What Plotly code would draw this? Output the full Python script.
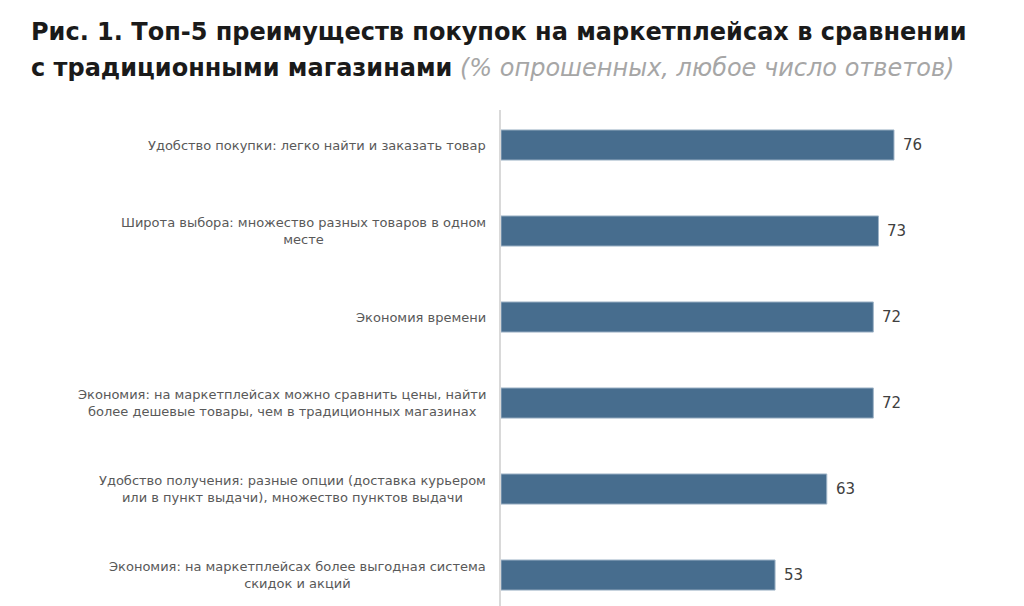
import plotly.graph_objects as go

categories = [
    "Удобство покупки: легко найти и заказать товар",
    "Широта выбора: множество разных товаров в одном<br>месте",
    "Экономия времени",
    "Экономия: на маркетплейсах можно сравнить цены, найти<br>более дешевые товары, чем в традиционных магазинах",
    "Удобство получения: разные опции (доставка курьером<br>или в пункт выдачи), множество пунктов выдачи",
    "Экономия: на маркетплейсах более выгодная система<br>скидок и акций",
]
values = [76, 73, 72, 72, 63, 53]
value_labels = [str(v) for v in values]

title_line1 = "Рис. 1. Топ-5 преимуществ покупок на маркетплейсах в сравнении"
title_line2 = "с традиционными магазинами"
title_note = "(% опрошенных, любое число ответов)"

FONT = "DejaVu Sans, sans-serif"
ypos = list(range(len(categories)))

W, H = 1024, 606
ML, MR, MT, MB = 501, 24, 110, 0
PW, PH = W - ML - MR, H - MT - MB


def px_to_paper_x(px):
    return (px - ML) / PW


def px_to_paper_y(py):
    return (H - MB - py) / PH


fig = go.Figure(go.Bar(
    y=ypos,
    x=values,
    orientation="h",
    width=0.35,
    marker=dict(color="#476d8e", line=dict(color="#9fb4c7", width=1)),
    hoverinfo="skip",
))

annotations = []
for yi, cat in zip(ypos, categories):
    annotations.append(dict(
        x=0, y=yi, xref="x", yref="y", text=cat, showarrow=False,
        xanchor="right", yanchor="middle", align="center", xshift=-13,
        font=dict(family=FONT, size=13, color="#595959"),
    ))
for yi, v, lab in zip(ypos, values, value_labels):
    annotations.append(dict(
        x=v, y=yi, xref="x", yref="y", text=lab, showarrow=False,
        xanchor="left", yanchor="middle", xshift=7,
        font=dict(family=FONT, size=15, color="#404040"),
    ))
annotations.append(dict(
    x=px_to_paper_x(29), y=px_to_paper_y(32), xref="paper", yref="paper",
    text="<b>" + title_line1 + "</b>", showarrow=False,
    xanchor="left", yanchor="middle",
    font=dict(family=FONT, size=24, color="#1a1a1a"),
))
annotations.append(dict(
    x=px_to_paper_x(29), y=px_to_paper_y(68), xref="paper", yref="paper",
    text="<b>" + title_line2 + "</b> <i><span style='color:#a6a6a6'>" + title_note + "</span></i>",
    showarrow=False, xanchor="left", yanchor="middle",
    font=dict(family=FONT, size=24, color="#1a1a1a"),
))

fig.update_layout(
    width=W, height=H,
    margin=dict(l=ML, r=MR, t=MT, b=MB),
    paper_bgcolor="white", plot_bgcolor="white",
    showlegend=False,
    annotations=annotations,
    xaxis=dict(range=[0, 96.5], visible=False, fixedrange=True),
    yaxis=dict(
        range=[5.36, -0.407],
        tickmode="array", tickvals=ypos, showticklabels=False,
        showline=True, linecolor="#d9d9d9", linewidth=1.5,
        showgrid=False, zeroline=False, ticks="",
        fixedrange=True,
    ),
)

fig.write_html("out.html")
